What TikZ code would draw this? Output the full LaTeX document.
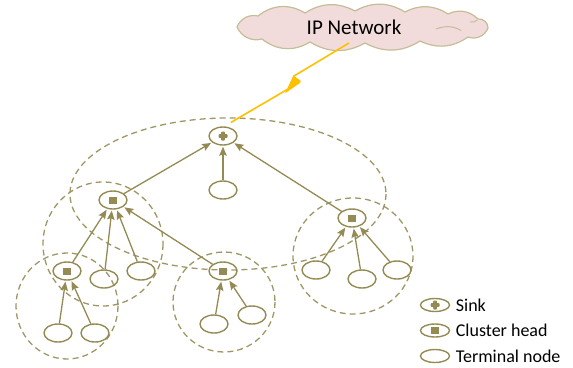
\documentclass[tikz,border=0pt]{standalone}
\usepackage{fontspec}
\setmainfont{Carlito}
\usepackage{tikz}
\usetikzlibrary{arrows.meta}
\usetikzlibrary{shapes.geometric}

\definecolor{olivedark}{HTML}{948A54}
\definecolor{tanline}{HTML}{C4BD97}
\definecolor{cloudpink}{HTML}{F2DCDB}
\definecolor{boltyellow}{HTML}{FFC000}

\begin{document}
\begin{tikzpicture}[x=1pt,y=-1pt,->,>={Stealth[length=9pt,width=7.5pt,inset=1.5pt]},shorten >=1pt,node distance=25.5pt,
  term node/.style={ellipse,draw=olivedark,line width=1.4pt,minimum width=28pt,minimum height=18pt,inner sep=0pt},
  head node/.style={term node,path picture={\fill[olivedark] ([xshift=-4pt,yshift=-3.5pt]path picture bounding box.center) rectangle ++(8pt,7pt);}},
  sink node/.style={term node,path picture={
      \fill[olivedark,rounded corners=0.8pt] ([xshift=-1.8pt,yshift=-4.5pt]path picture bounding box.center) rectangle ++(3.6pt,9pt);
      \fill[olivedark,rounded corners=0.8pt] ([xshift=-4.5pt,yshift=-1.8pt]path picture bounding box.center) rectangle ++(9pt,3.6pt);}},
  cluster/.style={-,draw=olivedark!90,line width=1.3pt,dash pattern=on 6pt off 4pt},
  legend text/.style={anchor=west,inner sep=0pt,xshift=5.5pt,font=\fontsize{18}{21}\selectfont}]

  \useasboundingbox (0,0) rectangle (573,367);

  % cluster ranges
  \draw[cluster] (228,194) ellipse [x radius=158,y radius=76];
  \draw[cluster] (103,244) ellipse [x radius=60,y radius=62];
  \draw[cluster] (67,306) ellipse [x radius=51,y radius=53];
  \draw[cluster] (224,302) ellipse [x radius=51,y radius=50];
  \draw[cluster] (353,256) ellipse [x radius=60,y radius=58];

  % network cloud and wireless link
  \filldraw[-,draw=tanline,fill=cloudpink,line width=1.2pt]
    (237,27) to[bend left=40] (258,16) to[bend left=35] (305,13) to[bend left=30] (355,11)
    to[bend left=30] (405,12) to[bend left=30] (448,14) to[bend left=35] (478,19)
    to[bend left=50] (488,28) to[bend left=45] (468,37) to[bend left=30] (420,41)
    to[bend left=30] (365,43) to[bend left=30] (310,42) to[bend left=35] (262,39)
    to[bend left=40] cycle;
  \draw[-,tanline,line width=1pt] (436,29) to[bend left=25] (462,31);
  \draw[-,tanline,line width=1pt] (470,22) to[bend right=30] (478,19);
  \node[font=\fontsize{21}{24}\selectfont] (netlabel) at (354,27) {IP Network};

  \node[sink node] (sink) at (223,136) {};
  \coordinate (boltend) at (230,123);
  \draw[-,boltyellow,line width=1.6pt,line join=miter] (349,43) -- (294,76) -- (287,91) -- (300,82) -- (boltend);
  \fill[boltyellow] (294,76) -- (287,91) -- (301,81) -- cycle;

  % nodes
  \node[term node] (t0) at (223,190) {};
  \node[head node] (ch1) at (113,200) {};
  \node[head node] (ch2) at (67,271) {};
  \node[head node] (ch3) at (223,271) {};
  \node[head node] (ch4) at (352,218) {};
  \node[term node] (t1) at (104,279) {};
  \node[term node] (t2) at (141,271) {};
  \node[term node] (t3) at (58,333) {};
  \node[term node] (t4) at (95,333) {};
  \node[term node] (t5) at (214,324) {};
  \node[term node] (t6) at (252,315) {};
  \node[term node] (t7) at (316,270) {};
  \node[term node] (t8) at (362,279) {};
  \node[term node] (t9) at (397,270) {};

  \path[olivedark,line width=1.3pt]
  (ch1) edge (sink)
  (t0) edge (sink)
  (ch4) edge (sink)
  (ch2) edge (ch1)
  (t1) edge (ch1)
  (t2) edge (ch1)
  (ch3) edge (ch1)
  (t3) edge (ch2)
  (t4) edge (ch2)
  (t5) edge (ch3)
  (t6) edge (ch3)
  (t7) edge (ch4)
  (t8) edge (ch4)
  (t9) edge (ch4);

  % legend
  \node[sink node,minimum width=29pt,minimum height=13pt] (lsink) at (435,305) {};
  \node[head node,minimum width=29pt,minimum height=13pt] (lhead) [below of=lsink] {};
  \node[term node,minimum width=29pt,minimum height=13pt] (lterm) [below of=lhead] {};
  \node[legend text] (tsink) at (lsink.east) {Sink};
  \node[legend text] (thead) at (lhead.east) {Cluster head};
  \node[legend text] (tterm) at (lterm.east) {Terminal node};

\end{tikzpicture}
\end{document}
